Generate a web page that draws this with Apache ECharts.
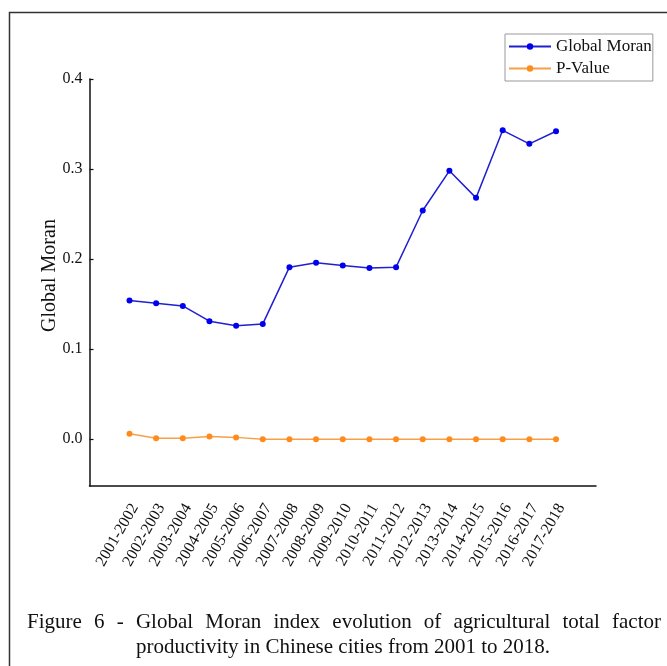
<!DOCTYPE html>
<html>
<head>
<meta charset="utf-8">
<script src="https://cdn.jsdelivr.net/npm/echarts@6/dist/echarts.min.js"></script>
<style>
html,body{margin:0;padding:0;background:#fff;}
#c{width:667px;height:666px;}
</style>
</head>
<body>
<div id="c"></div>
<script>
var categories = ['2001-2002','2002-2003','2003-2004','2004-2005','2005-2006','2006-2007','2007-2008','2008-2009','2009-2010','2010-2011','2011-2012','2012-2013','2013-2014','2014-2015','2015-2016','2016-2017','2017-2018'];
var globalMoran = [0.154,0.151,0.148,0.131,0.126,0.128,0.191,0.196,0.193,0.190,0.191,0.254,0.298,0.268,0.343,0.328,0.342];
var pValue = [0.006,0.001,0.001,0.003,0.002,0,0,0,0,0,0,0,0,0,0,0,0];
var yTicks = [0.0,0.1,0.2,0.3,0.4];
var captionLine1 = ['Figure','6','-','Global','Moran','index','evolution','of','agricultural','total','factor'];
var captionLine2 = 'productivity in Chinese cities from 2001 to 2018.';

var serif = "'Liberation Serif','Times New Roman',serif";
var chart = echarts.init(document.getElementById('c'));
var idx = categories.map(function(_, i){ return i; });
var labelPos = idx.map(function(i){ return i + 0.2; });
function pairs(arr){ return arr.map(function(v, i){ return [i, v]; }); }

// justified first caption line
var capFont = '21px ' + serif;
var ctx = document.createElement('canvas').getContext('2d');
ctx.font = capFont;
var lineLeft = 27, lineRight = 661;
var widths = captionLine1.map(function(w){ return ctx.measureText(w).width; });
var total = widths.reduce(function(a,b){ return a+b; }, 0);
var gap = (lineRight - lineLeft - total) / (captionLine1.length - 1);
var graphics = [
  {type:'rect', shape:{x:9.5,y:12.5,width:700,height:700}, style:{fill:'none',stroke:'#333',lineWidth:1.5}, silent:true}
];
var cx = lineLeft;
captionLine1.forEach(function(w, i){
  graphics.push({type:'text', x:cx, y:622, style:{text:w, font:capFont, fill:'#111', textVerticalAlign:'middle'}});
  cx += widths[i] + gap;
});
graphics.push({type:'text', x:343, y:647, style:{text:captionLine2, font:capFont, fill:'#111', textAlign:'center', textVerticalAlign:'middle'}});

chart.setOption({
  animation:false,
  backgroundColor:'#fff',
  grid:{left:89.5, right:71, top:79, bottom:180, containLabel:false},
  legend:{
    left:505, top:34, orient:'vertical',
    itemWidth:42, itemHeight:8, itemGap:5,
    padding:[4,1,4,3],
    borderColor:'#999', borderWidth:1,
    textStyle:{fontFamily:serif, fontSize:17, color:'#111'},
    data:['Global Moran','P-Value']
  },
  xAxis:{
    type:'value', min:-1.5, max:17.5,
    splitLine:{show:false},
    axisLine:{show:true, onZero:false, lineStyle:{color:'#111', width:1.5}},
    axisTick:{show:false},
    axisLabel:{
      customValues: labelPos,
      rotate:60, margin:19,
      fontFamily:serif, fontSize:16, color:'#111',
      formatter:function(v){ return categories[Math.round(v - 0.2)]; }
    }
  },
  yAxis:{
    type:'value', min:-0.052, max:0.4,
    name:'Global Moran', nameLocation:'middle', nameGap:30, nameMoveOverlap:false,
    nameTextStyle:{fontFamily:serif, fontSize:20, color:'#111', padding:[0,0,0,14]},
    splitLine:{show:false},
    axisLine:{show:true, onZero:false, lineStyle:{color:'#111', width:1.5}},
    axisTick:{show:true, inside:true, length:4, customValues:yTicks, lineStyle:{color:'#111', width:1.2}},
    axisLabel:{customValues:yTicks, margin:7, fontFamily:serif, fontSize:16, color:'#111',
      formatter:function(v){ return v.toFixed(1); }}
  },
  series:[
    {name:'Global Moran', type:'line', data:pairs(globalMoran), symbol:'circle', symbolSize:6,
      itemStyle:{color:'#0000ee'}, lineStyle:{color:'#2020d0', width:1.5}},
    {name:'P-Value', type:'line', data:pairs(pValue), symbol:'circle', symbolSize:6,
      itemStyle:{color:'#ff8c1a'}, lineStyle:{color:'#f7a04a', width:1.5}}
  ],
  graphic:graphics
});
</script>
</body>
</html>
